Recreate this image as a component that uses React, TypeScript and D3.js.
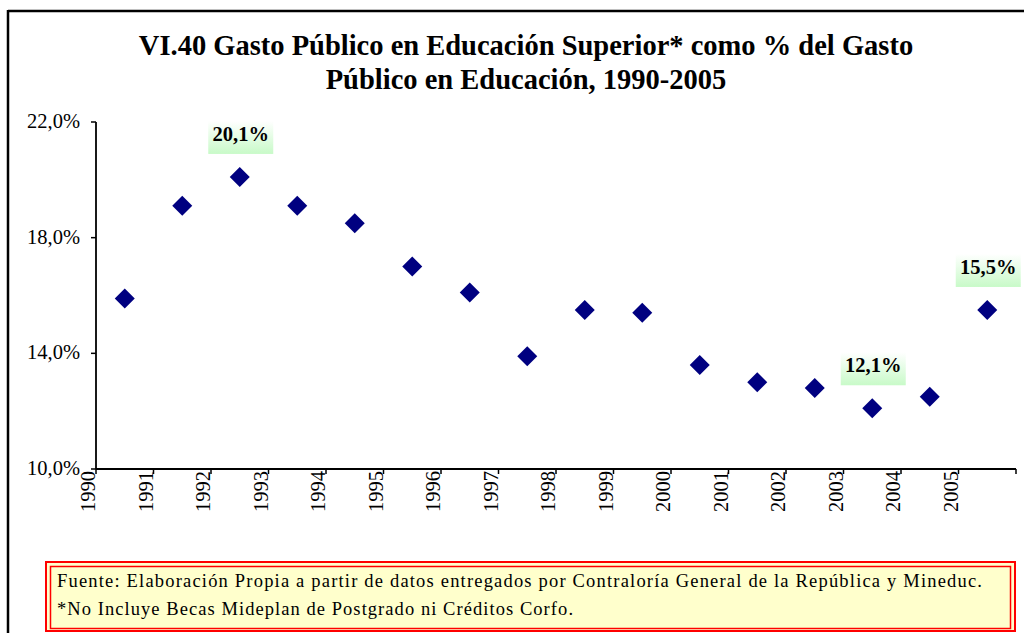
import React from "react";
import * as d3 from "d3";

const years = ["1990","1991","1992","1993","1994","1995","1996","1997","1998","1999","2000","2001","2002","2003","2004","2005"];
const values = [15.9,19.1,20.1,19.1,18.5,17.0,16.1,13.9,15.5,15.4,13.6,13.0,12.8,12.1,12.5,15.5];
const yTicks = [10,14,18,22];
const labeledYears = ["1992","2003","2005"];
const titleLines = ["VI.40 Gasto Público en Educación Superior* como % del Gasto", "Público en Educación, 1990-2005"];
const footerLines = ["Fuente: Elaboración Propia a partir de datos entregados por Contraloría General de la República y Mineduc.", "*No Incluye Becas Mideplan de Postgrado ni Créditos Corfo."];

const W = 1024, H = 633;
const serif = "Liberation Serif, DejaVu Serif, serif";

export default function App() {
  const x0 = 96, x1 = 1016, yTop = 122, yBot = 469;
  const x = d3.scaleBand<string>().domain(years).range([x0, x1]).paddingInner(0).paddingOuter(0);
  const y = d3.scaleLinear().domain([10, 22]).range([yBot, yTop]);
  const fmt = (v: number) => v.toFixed(1).replace(".", ",") + "%";
  const ds = 10;
  const footerLens = [925, 516];
  return (
    <svg width={W} height={H} style={{ position: "absolute", left: 0, top: 0, background: "#fff" }}>
      <defs>
        <linearGradient id="lblGrad" x1="0" y1="0" x2="0" y2="1">
          <stop offset="0" stopColor="#ffffff" />
          <stop offset="1" stopColor="#c8fac8" />
        </linearGradient>
      </defs>
      <rect x={0} y={0} width={W} height={H} fill="#fff" />
      <line x1={8} y1={11} x2={W} y2={11} stroke="#000" strokeWidth={2.5} />
      <line x1={8} y1={10} x2={8} y2={H} stroke="#000" strokeWidth={2.5} />
      {titleLines.map((t, i) => (
        <text key={i} x={526} y={55 + i * 34} textAnchor="middle" style={{ fontFamily: serif }} fontWeight="bold" fontSize={28.5} fill="#000">{t}</text>
      ))}
      <line x1={x0} y1={yTop} x2={x0} y2={yBot} stroke="#000" strokeWidth={1.8} />
      <line x1={x0} y1={yBot} x2={x1} y2={yBot} stroke="#000" strokeWidth={1.8} />
      {yTicks.map((t) => (
        <g key={t}>
          <line x1={x0 - 5} x2={x0} y1={y(t)} y2={y(t)} stroke="#000" strokeWidth={1.5} />
          <text x={80} y={y(t) + 6} textAnchor="end" style={{ fontFamily: serif }} fontSize={20.5} fill="#000">{fmt(t)}</text>
        </g>
      ))}
      {[...years.map((yr) => x(yr)!), x1].map((px, i) => (
        <line key={i} x1={px} x2={px} y1={yBot} y2={yBot + 5} stroke="#000" strokeWidth={1.5} />
      ))}
      {years.map((yr) => (
        <text key={yr} transform={`translate(${x(yr)! - 1},${yBot + 2}) rotate(-90)`} textAnchor="end" style={{ fontFamily: serif }} fontSize={20.5} fill="#000">{yr}</text>
      ))}
      {years.map((yr, i) => {
        const cx = x(yr)! + x.bandwidth() / 2;
        const cy = y(values[i]);
        return <path key={yr} d={`M${cx},${cy - ds}L${cx + ds},${cy}L${cx},${cy + ds}L${cx - ds},${cy}Z`} fill="#000080" />;
      })}
      {years.map((yr, i) => {
        if (!labeledYears.includes(yr)) return null;
        const cx = x(yr)! + x.bandwidth() / 2 + 1;
        const cy = y(values[i]);
        const bw = 65, bh = 33;
        const by = cy - 23 - bh;
        return (
          <g key={yr}>
            <rect x={cx - bw / 2} y={by} width={bw} height={bh} fill="url(#lblGrad)" />
            <text x={cx} y={by + 20} textAnchor="middle" style={{ fontFamily: serif }} fontWeight="bold" fontSize={20.5} fill="#000">{fmt(values[i])}</text>
          </g>
        );
      })}
      <rect x={46} y={562} width={969} height={69} fill="#ffffcc" stroke="#ff0000" strokeWidth={2} />
      <rect x={50.5} y={566.5} width={960} height={62} fill="none" stroke="#ff0000" strokeWidth={1.5} />
      {footerLines.map((t, i) => (
        <text key={i} x={57} y={587 + i * 28} style={{ fontFamily: serif }} fontSize={18.5} textLength={footerLens[i]} lengthAdjust="spacing" fill="#000">{t}</text>
      ))}
    </svg>
  );
}
